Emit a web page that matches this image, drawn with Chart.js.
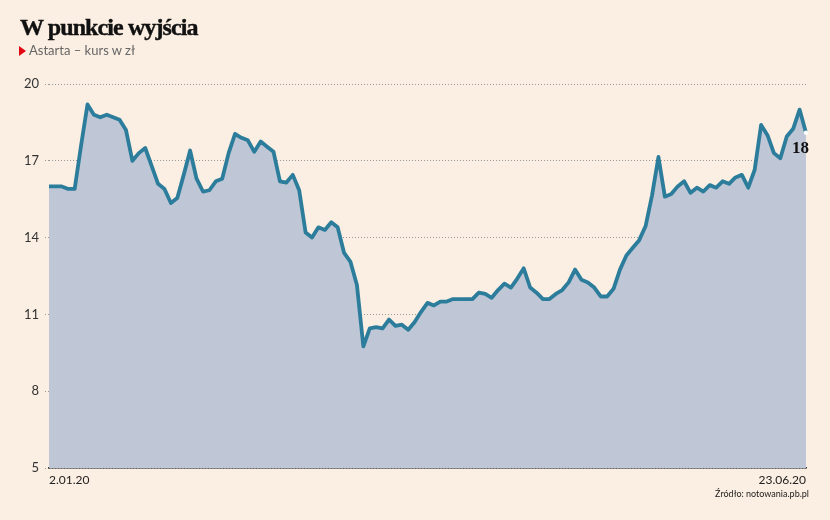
<!DOCTYPE html>
<html>
<head>
<meta charset="utf-8">
<script src="https://cdn.jsdelivr.net/npm/chart.js@4"></script>
<style>
  html, body { margin: 0; padding: 0; background: #fbeee2; }
  #wrap { position: relative; width: 830px; height: 520px; }
  #chart { position: absolute; left: 0; top: 0; }
  .title { position: absolute; left: 20px; top: 14px; font: bold 24px "Liberation Serif", serif; color: #111; letter-spacing: -0.9px; -webkit-text-stroke: 0.4px #111; }
  .sub { position: absolute; left: 19px; top: 42px; font: 13px Lato, sans-serif; color: #666; }
  .sub i { display: inline-block; width: 0; height: 0; border-top: 5px solid transparent; border-bottom: 5px solid transparent; border-left: 7px solid #e30613; margin-right: 3px; vertical-align: -1px; }
  .src { position: absolute; right: 21px; top: 488px; font: 9px Lato, sans-serif; color: #222; }
</style>
</head>
<body>
<div id="wrap">
  <canvas id="chart" width="830" height="520"></canvas>
  <div class="title">W punkcie wyjścia</div>
  <div class="sub"><i></i>Astarta – kurs w zł</div>
  <div class="src">Źródło: notowania.pb.pl</div>
</div>
<script>
// kurs Astarta (zł), sesje od 2.01.20 do 23.06.20
const prices = [
  16.0, 16.0, 16.0, 15.9, 15.9, 17.6, 19.2, 18.8, 18.7, 18.8,
  18.7, 18.6, 18.2, 17.0, 17.3, 17.5, 16.8, 16.1, 15.9, 15.35,
  15.55, 16.45, 17.4, 16.3, 15.8, 15.85, 16.2, 16.3, 17.3, 18.05,
  17.9, 17.8, 17.35, 17.75, 17.55, 17.35, 16.2, 16.15, 16.45, 15.85,
  14.2, 14.0, 14.4, 14.3, 14.6, 14.4, 13.4, 13.05, 12.15, 9.75,
  10.45, 10.5, 10.45, 10.8, 10.55, 10.6, 10.4, 10.7, 11.1, 11.45,
  11.35, 11.5, 11.5, 11.6, 11.6, 11.6, 11.6, 11.85, 11.8, 11.65,
  11.95, 12.2, 12.05, 12.4, 12.8, 12.05, 11.85, 11.6, 11.6, 11.8,
  11.95, 12.25, 12.75, 12.35, 12.25, 12.05, 11.7, 11.7, 12.0, 12.75,
  13.3, 13.6, 13.9, 14.45, 15.65, 17.15, 15.6, 15.7, 16.0, 16.2,
  15.75, 15.95, 15.8, 16.05, 15.95, 16.2, 16.1, 16.35, 16.45, 15.95,
  16.65, 18.4, 18.0, 17.3, 17.1, 17.95, 18.25, 19.0, 18.1
];
const firstDate = '2.01.20';
const lastDate = '23.06.20';
const yTicks = [5, 8, 11, 14, 17, 20];

const labels = prices.map((_, i) => i);
const last = prices.length - 1;

// podpis ostatniej wartości
const endLabel = {
  id: 'endLabel',
  afterDatasetsDraw(chart) {
    const pt = chart.getDatasetMeta(0).data[last];
    const c = chart.ctx;
    c.save();
    c.font = 'bold 17px "Liberation Serif", serif';
    c.fillStyle = '#111';
    c.textAlign = 'right';
    c.textBaseline = 'top';
    c.fillText(Math.round(prices[last]), pt.x + 3, pt.y + 7);
    c.restore();
  }
};

new Chart(document.getElementById('chart'), {
  type: 'line',
  data: {
    labels: labels,
    datasets: [{
      data: prices,
      borderColor: '#2c7d9b',
      borderWidth: 3.8,
      backgroundColor: '#bfc6d6',
      fill: 'start',
      tension: 0,
      borderJoinStyle: 'round',
      pointRadius: (ctx) => ctx.dataIndex === last ? 2.2 : 0,
      pointBackgroundColor: '#fff',
      pointBorderWidth: 0
    }]
  },
  options: {
    responsive: false,
    animation: false,
    layout: { padding: { top: 84, right: 24, left: 0, bottom: 0 } },
    plugins: { legend: { display: false }, tooltip: { enabled: false } },
    scales: {
      x: {
        offset: false,
        afterFit: (s) => { s.height = 52; },
        grid: { display: false, drawTicks: false },
        border: { display: true, color: '#333', width: 1.5 },
        ticks: {
          autoSkip: false,
          maxRotation: 0,
          align: 'inner',
          padding: 5,
          color: '#222',
          font: { family: 'Lato', size: 12 },
          callback: (v, i) => i === 0 ? firstDate : (i === last ? lastDate : '')
        }
      },
      y: {
        min: 5,
        max: 20,
        afterFit: (s) => { s.width = 49; },
        afterBuildTicks: (s) => { s.ticks = yTicks.map(v => ({ value: v })); },
        grid: { color: '#999', tickLength: 4, tickBorderDash: [1, 2], drawTicks: true },
        border: { display: false, dash: [1, 2] },
        ticks: {
          padding: 6,
          color: '#333',
          font: { family: 'Lato', size: 13 }
        }
      }
    }
  },
  plugins: [endLabel]
});
</script>
</body>
</html>
